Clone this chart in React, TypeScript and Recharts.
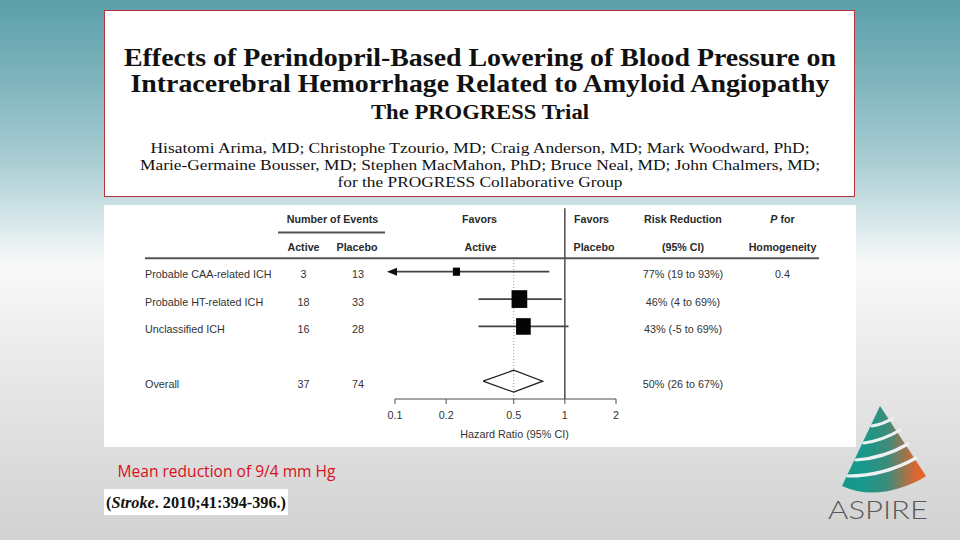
import React from 'react';
import { ScatterChart, Scatter, XAxis, YAxis, ReferenceLine, ErrorBar } from 'recharts';

// forest plot rows (blank row keeps the gap above "Overall")
const subgroups = ['Probable CAA-related ICH', 'Probable HT-related ICH', 'Unclassified ICH', '', 'Overall'];
const activeEvents = [3, 18, 16, null, 37];
const placeboEvents = [13, 33, 28, null, 74];
const hazardRatio = [0.23, 0.54, 0.57, null, 0.5];
const ciLower = [0.07, 0.31, 0.31, null, 0.33];
const ciUpper = [0.81, 0.96, 1.05, null, 0.74];
const riskReduction = ['77% (19 to 93%)', '46% (4 to 69%)', '43% (-5 to 69%)', '', '50% (26 to 67%)'];
const pHomogeneity = ['0.4', '', '', '', ''];
const hrTicks = [0.1, 0.2, 0.5, 1, 2];

const titleLines = [
  'Effects of Perindopril-Based Lowering of Blood Pressure on',
  'Intracerebral Hemorrhage Related to Amyloid Angiopathy',
];
const subtitle = 'The PROGRESS Trial';
const authorLines = [
  'Hisatomi Arima, MD; Christophe Tzourio, MD; Craig Anderson, MD; Mark Woodward, PhD;',
  'Marie-Germaine Bousser, MD; Stephen MacMahon, PhD; Bruce Neal, MD; John Chalmers, MD;',
  'for the PROGRESS Collaborative Group',
];

const SANS = '"Liberation Sans", Arial, sans-serif';
const SERIF = '"Liberation Serif", "Times New Roman", serif';
const AXIS_MIN = hrTicks[0];
const HR_MAX = hrTicks[hrTicks.length - 1];
const DIAMOND_HALF = 0.4;
const VLINE_TOP = -2.32;

const rows = subgroups
  .map((name, i) => ({
    name,
    row: i,
    active: activeEvents[i],
    placebo: placeboEvents[i],
    hr: hazardRatio[i],
    lo: ciLower[i],
    hi: ciUpper[i],
    rr: riskReduction[i],
    p: pHomogeneity[i],
  }))
  .filter((r) => r.hr != null) as any[];

const subgroupRows = rows
  .filter((r) => r.name !== 'Overall')
  .map((r) => ({
    ...r,
    err: [r.hr - Math.max(r.lo, AXIS_MIN), r.hi - r.hr],
    weight: 1 / (1 / r.active + 1 / r.placebo),
  }));

const overall = rows.find((r) => r.name === 'Overall');
const diamond = [
  { hr: overall.lo, row: overall.row },
  { hr: overall.hr, row: overall.row - DIAMOND_HALF },
  { hr: overall.hi, row: overall.row },
  { hr: overall.hr, row: overall.row + DIAMOND_HALF },
  { hr: overall.lo, row: overall.row },
];
const truncated = rows.filter((r) => r.lo < AXIS_MIN).map((r) => ({ hr: AXIS_MIN, row: r.row }));

// column centres inside the forest panel
const COL = { label: 41, active: 199.5, placebo: 254, rr: 579, p: 678.5 };

const RowText = (props: any) => {
  const { cy, payload } = props;
  const y = cy + 2.5;
  return (
    <g fontFamily={SANS} fontSize={10.8} fill="#333">
      <text x={COL.label} y={y} dominantBaseline="central">{payload.name}</text>
      <text x={COL.active} y={y} textAnchor="middle" dominantBaseline="central">{payload.active}</text>
      <text x={COL.placebo} y={y} textAnchor="middle" dominantBaseline="central">{payload.placebo}</text>
      <text x={COL.rr} y={y} textAnchor="middle" dominantBaseline="central">{payload.rr}</text>
      <text x={COL.p} y={y} textAnchor="middle" dominantBaseline="central">{payload.p}</text>
    </g>
  );
};

const WeightedSquare = (props: any) => {
  const { cx, cy, payload } = props;
  const s = Math.sqrt(payload.weight);
  const w = 4.6 * s;
  const h = 5.2 * s;
  return <rect x={cx - w / 2} y={cy - h / 2} width={w} height={h} fill="#050505" />;
};

const LeftArrow = (props: any) => {
  const { cx, cy } = props;
  return <polygon points={`${cx - 8},${cy} ${cx + 2},${cy - 4} ${cx + 2},${cy + 4}`} fill="#111" />;
};

const NoDot = () => <g />;

const PanelHeader = () => (
  <svg width={752} height={242} style={{ position: 'absolute', left: 0, top: 0, pointerEvents: 'none' }}>
    <g fontFamily={SANS} fontSize={10.7} fontWeight="bold" fill="#2a2a2a" textAnchor="middle">
      <text x={228.5} y={18}>Number of Events</text>
      <text x={375.5} y={18}>Favors</text>
      <text x={487.5} y={18}>Favors</text>
      <text x={579} y={18}>Risk Reduction</text>
      <text x={678.5} y={18}>
        <tspan fontStyle="italic">P</tspan> for
      </text>
      <text x={199.5} y={45.5}>Active</text>
      <text x={253} y={45.5}>Placebo</text>
      <text x={376.5} y={45.5}>Active</text>
      <text x={490} y={45.5}>Placebo</text>
      <text x={579} y={45.5}>(95% CI)</text>
      <text x={678.5} y={45.5}>Homogeneity</text>
    </g>
    <line x1={174} x2={281} y1={27.5} y2={27.5} stroke="#555" strokeWidth={2} />
    <line x1={41} x2={715} y1={53.3} y2={53.3} stroke="#555" strokeWidth={2} />
  </svg>
);

const AspireLogo = () => (
  <g>
    <defs>
      <linearGradient id="coneGrad" x1="0" y1="0" x2="1" y2="0">
        <stop offset="0.25" stopColor="#16998b" />
        <stop offset="0.55" stopColor="#3f8b79" />
        <stop offset="0.9" stopColor="#e2652c" />
      </linearGradient>
    </defs>
    <path d="M880,406 L842,486 Q868,498 900,488 Q918,482 926,476 Z" fill="url(#coneGrad)" />
    <g stroke="#eef1f1" strokeWidth={3.2} fill="none" strokeLinecap="round">
      <path d="M872,426 Q884,424 893,418" />
      <path d="M864,443 Q884,440 900,430" />
      <path d="M856,460 Q884,458 908,444" />
      <path d="M848,476 Q884,476 916,458" />
    </g>
    <text x={878} y={519} textAnchor="middle" fontFamily='"Lato", "Open Sans", sans-serif' fontWeight={300}
      fontSize={25} fill="#5a5a5a" textLength={100} lengthAdjust="spacingAndGlyphs">ASPIRE</text>
  </g>
);

const Slide = () => (
  <svg width={960} height={540} style={{ position: 'absolute', left: 0, top: 0 }}>
    <rect x={104.5} y={10.5} width={750} height={186} fill="#fff" stroke="#b5343c" strokeWidth={1} />
    <g fontFamily={SERIF} fill="#111" textAnchor="middle">
      <text x={480} y={65.5} fontSize={25} fontWeight="bold" textLength={712} lengthAdjust="spacingAndGlyphs">{titleLines[0]}</text>
      <text x={480} y={91.5} fontSize={25} fontWeight="bold" textLength={699} lengthAdjust="spacingAndGlyphs">{titleLines[1]}</text>
      <text x={480} y={119} fontSize={20} fontWeight="bold" textLength={218} lengthAdjust="spacingAndGlyphs">{subtitle}</text>
      <text x={480} y={152.5} fontSize={15.5} textLength={659} lengthAdjust="spacingAndGlyphs">{authorLines[0]}</text>
      <text x={480} y={169.5} fontSize={15.5} textLength={680} lengthAdjust="spacingAndGlyphs">{authorLines[1]}</text>
      <text x={480} y={186.5} fontSize={15.5} textLength={285} lengthAdjust="spacingAndGlyphs">{authorLines[2]}</text>
    </g>
    <text x={117.5} y={476.5} fontFamily='"Liberation Sans Narrow", "Open Sans", sans-serif' fontSize={16} fill="#d8101c"
      textLength={218} lengthAdjust="spacingAndGlyphs">Mean reduction of 9/4 mm Hg</text>
    <rect x={104} y={489} width={184} height={26} fill="#fff" />
    <text x={106} y={508} fontFamily={SERIF} fontSize={17} fontWeight="bold" fill="#111" textLength={180}
      lengthAdjust="spacingAndGlyphs">(<tspan fontStyle="italic">Stroke</tspan>. 2010;41:394-396.)</text>
    <AspireLogo />
  </svg>
);

export default function App() {
  return (
    <div
      style={{
        position: 'absolute',
        left: 0,
        top: 0,
        width: 960,
        height: 540,
        overflow: 'hidden',
        background:
          'linear-gradient(to bottom, #5a9fa9 0%, #7fb4bd 15%, #a9cdd3 30%, #d3e5e8 40%, #f9f9f9 49%, #ececec 64%, #dedede 82%, #d2d2d2 100%)',
      }}
    >
      <Slide />
      <div style={{ position: 'absolute', left: 104, top: 205, width: 752, height: 242, background: '#fff' }}>
        <ScatterChart width={752} height={242} margin={{ top: 53, right: 240, bottom: 8, left: 291 }}>
          <XAxis
            type="number"
            dataKey="hr"
            scale="log"
            domain={[AXIS_MIN, HR_MAX]}
            ticks={hrTicks}
            interval={0}
            tickSize={5}
            tickMargin={7}
            height={40}
            stroke="#4d4d4d"
            tick={{ fontSize: 10.8, fill: '#333', fontFamily: SANS }}
            label={{ value: 'Hazard Ratio (95% CI)', position: 'insideBottom', offset: 1, dx: 9, fontSize: 10.8, fill: '#333', fontFamily: SANS }}
          />
          <YAxis type="number" dataKey="row" domain={[-0.5, 4.65]} reversed hide width={0} />
          <ReferenceLine x={overall.hr} stroke="#999" strokeDasharray="1 2" />
          <ReferenceLine
            segment={[{ x: 1, y: VLINE_TOP }, { x: 1, y: 4.65 }]}
            ifOverflow="visible"
            stroke="#222"
            strokeWidth={1.2}
          />
          <Scatter data={rows} shape={RowText} isAnimationActive={false} />
          <Scatter data={subgroupRows} shape={WeightedSquare} isAnimationActive={false}>
            <ErrorBar dataKey="err" direction="x" width={0} stroke="#444" strokeWidth={1.7} />
          </Scatter>
          <Scatter data={truncated} shape={LeftArrow} isAnimationActive={false} />
          <Scatter data={diamond} shape={NoDot} line={{ stroke: '#222', strokeWidth: 1.3 }} lineType="joint" isAnimationActive={false} />
        </ScatterChart>
        <PanelHeader />
      </div>
    </div>
  );
}
